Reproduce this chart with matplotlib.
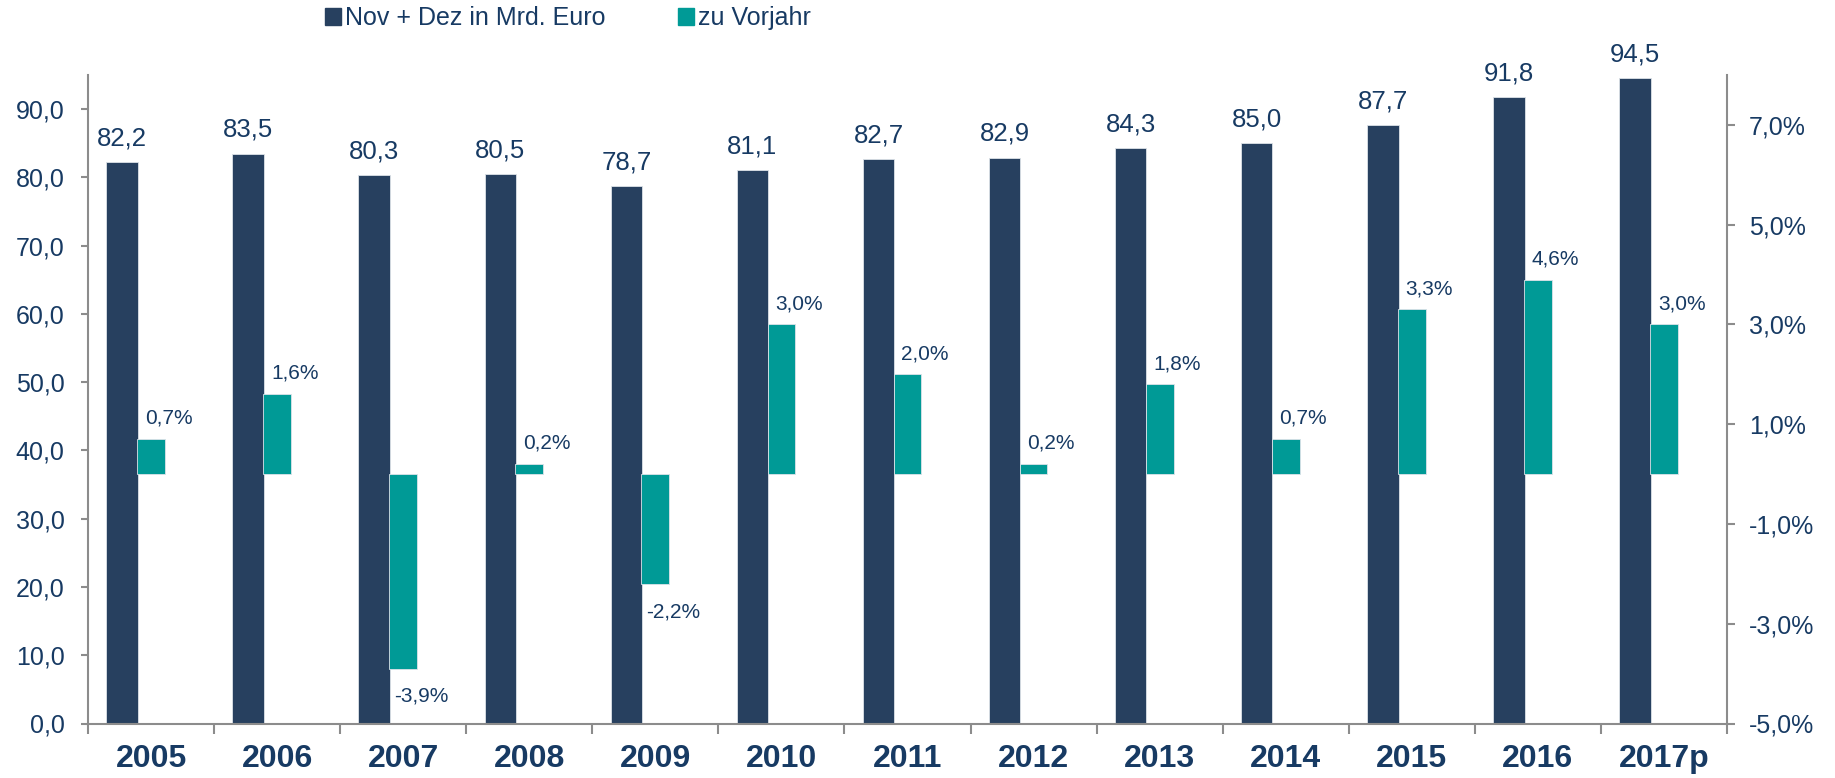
import numpy as np
import matplotlib.pyplot as plt
from matplotlib.patches import Patch
from matplotlib.ticker import FuncFormatter

plt.rcParams['font.family'] = ['Liberation Sans', 'DejaVu Sans']

years = ["2005", "2006", "2007", "2008", "2009", "2010", "2011",
         "2012", "2013", "2014", "2015", "2016", "2017p"]
umsatz = [82.2, 83.5, 80.3, 80.5, 78.7, 81.1, 82.7, 82.9, 84.3, 85.0, 87.7, 91.8, 94.5]
# Hoehe der Balken wie im Bild gezeichnet (2016 ist kuerzer als seine Beschriftung)
vorjahr = [0.7, 1.6, -3.9, 0.2, -2.2, 3.0, 2.0, 0.2, 1.8, 0.7, 3.3, 3.9, 3.0]
vorjahr_labels = ["0,7%", "1,6%", "-3,9%", "0,2%", "-2,2%", "3,0%", "2,0%",
                  "0,2%", "1,8%", "0,7%", "3,3%", "4,6%", "3,0%"]

navy = "#27405F"
teal = "#009A96"
txt = "#173A63"
grau = "#8C8C8C"

fig = plt.figure(figsize=(18.35, 7.78), dpi=100)
ax = fig.add_axes([88/1835, 1-723.5/778, (1727-88)/1835, (723.5-75)/778])
ax2 = ax.twinx()

x = np.arange(len(years))
ax.bar(x - 0.23, umsatz, width=0.25, color=navy, edgecolor="#dde2e8", linewidth=0.6)
ax2.bar(x, vorjahr, width=0.22, color=teal, edgecolor="#dde2e8", linewidth=0.6)

for i, v in enumerate(umsatz):
    ax.annotate(f"{v:.1f}".replace(".", ","), (x[i] - 0.23, v), xytext=(0, 12),
                textcoords="offset points", ha="center", va="baseline",
                fontsize=18.5, color=txt)

for i, v in enumerate(vorjahr):
    off = 11 if v >= 0 else -24
    ax2.annotate(vorjahr_labels[i], (x[i] + 0.14, v), xytext=(0, off),
                 textcoords="offset points", ha="center", va="baseline",
                 fontsize=15, color=txt)

ax.set_xlim(-0.5, len(years) - 0.5)
ax.set_ylim(0, 95)
ax2.set_ylim(-5, 8)
ax.set_yticks(np.arange(0, 91, 10))
ax2.set_yticks(np.arange(-5, 8, 2))
ax.yaxis.set_major_formatter(FuncFormatter(lambda v, p: f"{v:.1f}".replace(".", ",")))
ax2.yaxis.set_major_formatter(FuncFormatter(lambda v, p: f"{v:.1f}%".replace(".", ",")))

ax.set_xticks(np.arange(-0.5, len(years), 1))
ax.set_xticklabels([])
ax.set_xticks(x, minor=True)
ax.set_xticklabels(years, minor=True, fontsize=23, fontweight="bold", color=txt)
ax.tick_params(axis="x", which="major", length=7, width=1.5, color=grau, direction="out")
ax.tick_params(axis="x", which="minor", length=0, pad=15)
ax.tick_params(axis="y", length=5, width=1.5, color=grau, pad=12, labelsize=18, labelcolor=txt)
ax2.tick_params(axis="y", length=6, width=1.5, color=grau, pad=10, labelsize=18, labelcolor=txt)

for a in (ax, ax2):
    a.spines["top"].set_visible(False)
    for s in a.spines.values():
        s.set_color(grau)
        s.set_linewidth(1.5)
ax.spines["right"].set_visible(False)
ax2.spines["left"].set_visible(False)
ax2.spines["bottom"].set_visible(False)

handles = [Patch(color=navy), Patch(color=teal)]
fig.legend(handles, ["Nov + Dez in Mrd. Euro", "zu Vorjahr"], loc="center left",
           bbox_to_anchor=(325/1835, 1-18/778), ncol=2, frameon=False,
           fontsize=18, labelcolor=txt, handlelength=0.65, handleheight=0.65,
           handletextpad=0.15, columnspacing=2.9, borderpad=0, borderaxespad=0)

fig.savefig("out.png", dpi=100)
